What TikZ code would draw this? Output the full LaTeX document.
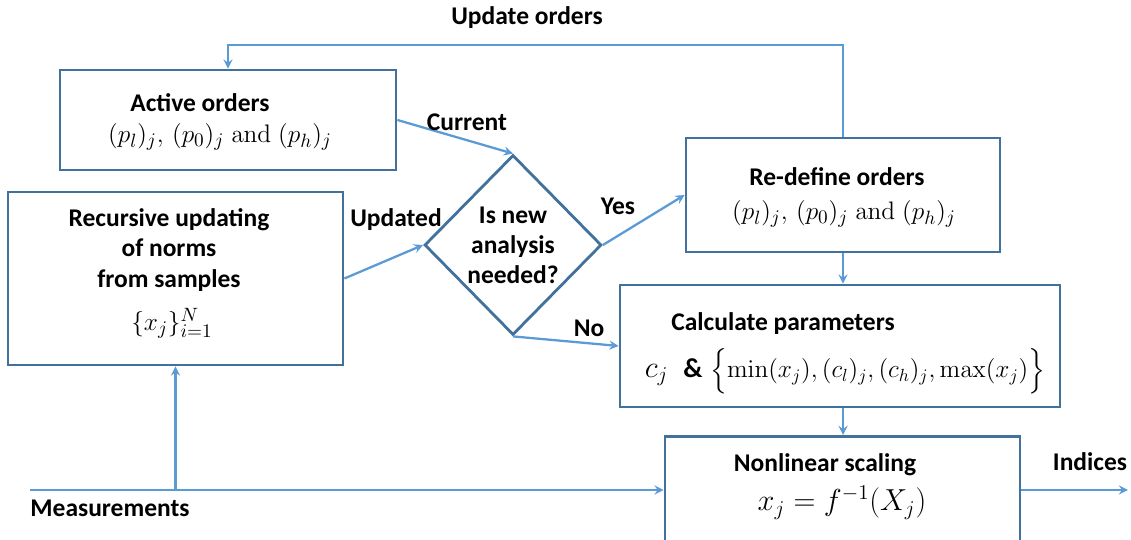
\documentclass[tikz,border=0pt]{standalone}
\usepackage{amsmath}
\usepackage[no-math]{fontspec}
\setmainfont{Carlito}
\usetikzlibrary{shapes.geometric}
\definecolor{boxblue}{HTML}{41719C}
\definecolor{arrowblue}{HTML}{5B9BD5}

\begin{document}
\begin{tikzpicture}[->,>=stealth,thick,
    box/.style={rectangle,draw=boxblue,line width=1.6pt,align=center,font=\fontsize{14.5}{17}\selectfont\bfseries},
    flow/.style={draw=arrowblue,line width=1.3pt,->,>=stealth},
    lbl/.style={font=\fontsize{14.5}{15}\selectfont\bfseries,align=center,inner sep=1pt},
    eq/.style={font=\fontsize{15.5}{18}\selectfont,inner sep=0pt}]

    \useasboundingbox (0,0) rectangle (22.62,10.8);
    \clip (0,0) rectangle (22.62,10.8);

    % boxes
    \node[box, minimum width=6.72cm, minimum height=2cm] (1) at (4.56,8.4) {};
    \node[box, minimum width=6.7cm, minimum height=3.46cm] (2) at (3.51,5.23) {};
    \node[box, diamond, minimum width=3.54cm, minimum height=3.6cm, inner sep=0pt] (3) at (10.26,5.9)
        {Is new\\ analysis\\ needed?};
    \node[box, minimum width=6.28cm, minimum height=2.28cm] (4) at (16.86,6.9) {};
    \node[box, minimum width=8.8cm, minimum height=2.44cm] (5) at (16.8,3.88) {};
    \node[box, minimum width=7.1cm, minimum height=2.5cm, anchor=north] (6) at (16.85,2.1) {};

    % texts in the boxes
    \node[lbl] (1a) at (4.0,8.74) {Active orders};
    \node[eq] (1b) at (4.4,8.06) {$(p_l)_j,\,(p_0)_j\;\mathrm{and}\;(p_h)_j$};
    \node[lbl, font=\fontsize{14.5}{17.3}\selectfont\bfseries] (2a) at (3.38,5.8) {Recursive updating\\ of norms\\ from samples};
    \node[eq] (2b) at (3.44,4.34) {$\{x_j\}_{i=1}^N$};
    \node[lbl] (4a) at (16.74,7.26) {Re-define orders};
    \node[eq] (4b) at (16.88,6.52) {$(p_l)_j,\,(p_0)_j\;\mathrm{and}\;(p_h)_j$};
    \node[lbl] (5a) at (15.66,4.32) {Calculate parameters};
    \node[eq] (5b) at (16.9,3.38) {{\LARGE $c_j$}\;\;\textbf{\&}\;{\fontsize{14.5}{17}\selectfont$\Big\{\!\min(x_j),(c_l)_j,(c_h)_j,\max(x_j)\Big\}$}};
    \node[lbl] (6a) at (16.5,1.5) {Nonlinear scaling};
    \node[eq, font=\fontsize{17.5}{20}\selectfont] (6b) at (16.84,0.74) {$x_j=f^{-1}(X_j)$};

    \coordinate (in) at (0.6,1.0);
    \coordinate (out) at (22.56,1.0);
    \coordinate (top) at (0,9.9);

    % loop back to the active orders
    \draw[flow] (4.north) -- (4.north |- top) -| (1.north);
    \node[lbl] (t1) at (10.54,10.44) {Update orders};

    \draw[flow] (1.east) -- (3.north);
    \node[lbl] (t2) at (9.34,8.36) {Current};
    \draw[flow] (2.east) -- (3.west);
    \node[lbl] (t3) at (7.92,6.4) {Updated};
    \draw[flow] (3.east) -- (4.west);
    \node[lbl] (t4) at (12.36,6.68) {Yes};
    \draw[flow] (3.south) -- (5.west);
    \node[lbl] (t5) at (11.78,4.24) {No};

    \draw[flow] (4.south) -- (4.south |- 5.north);
    \draw[flow] (5.south -| 4.south) -- (4.south |- 6.north);

    \draw[flow] (in) -- (in -| 6.west);
    \draw[flow] (2.south |- in) -- (2.south);
    \node[lbl] (t6) at (2.2,0.64) {Measurements};
    \draw[flow] (6.east |- in) -- (out);
    \node[lbl] (t7) at (21.8,1.56) {Indices};

\end{tikzpicture}
\end{document}
